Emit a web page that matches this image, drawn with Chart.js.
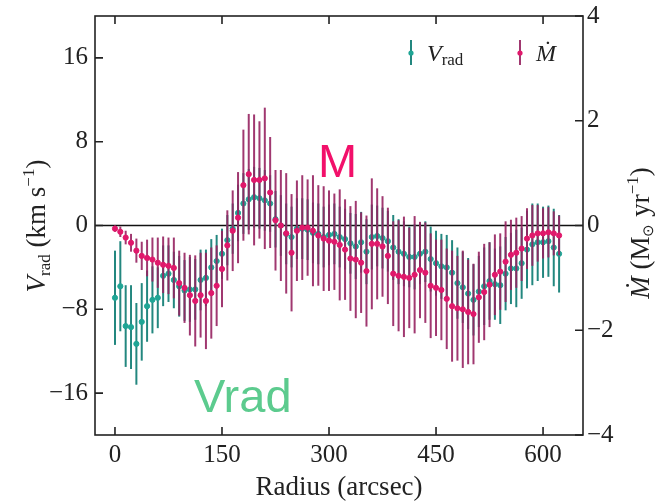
<!DOCTYPE html>
<html>
<head>
<meta charset="utf-8">
<script src="https://cdn.jsdelivr.net/npm/chart.js@4.4.1/dist/chart.umd.min.js"></script>
<style>
  html, body { margin: 0; padding: 0; background: #fff; }
  #wrap { width: 671px; height: 504px; position: relative; }
</style>
</head>
<body>
<div id="wrap"><canvas id="chartVrad" width="671" height="504"></canvas></div>
<script>
// radius in arcsec
const radius = [0, 7.5, 15, 22.5, 30, 37.5, 45, 52.5, 60, 67.5, 75, 82.5, 90, 97.5, 105, 112.5,
  120, 127.5, 135, 142.5, 150, 157.5, 165, 172.5, 180, 187.5, 195, 202.5, 210, 217.5, 225, 232.5,
  240, 247.5, 255, 262.5, 270, 277.5, 285, 292.5, 300, 307.5, 315, 322.5, 330, 337.5, 345, 352.5,
  360, 367.5, 375, 382.5, 390, 397.5, 405, 412.5, 420, 427.5, 435, 442.5, 450, 457.5, 465, 472.5,
  480, 487.5, 495, 502.5, 510, 517.5, 525, 532.5, 540, 547.5, 555, 562.5, 570, 577.5, 585, 592.5,
  600, 607.5, 615, 622.5];

// V_rad (km/s) and its error
const vrad = [-6.9, -5.8, -9.6, -9.7, -11.3, -9.2, -7.7, -7.1, -6.9, -4.8,
  -4.6, -5.2, -5.8, -6.2, -6.1, -6.1, -5.2, -5.0, -4.0, -3.4,
  -2.7, -1.4, -0.3, 1.2, 2.1, 2.5, 2.7, 2.6, 2.4, 2.1,
  0.6, 0.0, -0.8, -1.1, -0.3, -0.3, -0.4, -0.7, -0.8, -1.1,
  -0.9, -0.8, -1.1, -1.3, -1.7, -2.0, -1.6, -2.5, -1.1, -1.0,
  -1.2, -1.5, -2.1, -2.5, -2.7, -3.0, -3.0, -2.7, -2.5, -3.2,
  -3.6, -3.9, -4.0, -4.5, -5.5, -5.9, -6.5, -7.1, -6.3, -5.8,
  -5.3, -5.6, -5.7, -4.6, -4.1, -4.1, -3.6, -2.3, -1.8, -1.6,
  -1.6, -1.5, -2.1, -2.7];
const vradErr = [4.5, 4.3, 3.9, 4.0, 3.9, 3.7, 3.4, 3.2, 2.9, 2.9,
  2.7, 2.7, 2.9, 2.9, 3.1, 2.9, 2.9, 2.7, 2.7, 2.5,
  2.4, 2.4, 2.4, 2.7, 2.9, 2.9, 2.9, 2.9, 2.9, 2.7,
  2.7, 2.9, 2.9, 2.9, 2.9, 2.9, 2.9, 2.9, 2.9, 2.9,
  2.9, 2.9, 2.9, 2.9, 2.9, 3.1, 2.9, 3.1, 3.1, 2.9,
  2.9, 2.9, 3.1, 3.1, 3.1, 2.9, 3.1, 2.9, 2.9, 3.1,
  3.1, 3.1, 3.1, 3.1, 3.4, 3.4, 3.4, 3.4, 3.4, 3.7,
  3.7, 3.4, 3.7, 3.5, 3.4, 3.7, 3.4, 3.7, 3.9, 3.7,
  3.4, 3.4, 3.7, 3.7];

// mass inflow rate (Msun/yr) and its error
const mdot = [-0.06, -0.12, -0.23, -0.33, -0.48, -0.58, -0.62, -0.65, -0.71, -0.75,
  -0.77, -0.81, -1.10, -1.19, -1.33, -1.44, -1.33, -1.44, -1.29, -1.15,
  -0.83, -0.38, -0.10, 0.15, 0.77, 0.98, 0.87, 0.87, 0.90, 0.63,
  0.10, 0.00, -0.15, -0.52, -0.10, -0.04, -0.04, -0.10, -0.19, -0.25,
  -0.29, -0.31, -0.37, -0.46, -0.63, -0.65, -0.71, -0.87, -0.35, -0.35,
  -0.40, -0.58, -0.92, -0.96, -0.98, -1.00, -0.94, -0.85, -0.90, -1.15,
  -1.19, -1.23, -1.40, -1.54, -1.58, -1.60, -1.65, -1.69, -1.37, -1.27,
  -1.13, -0.94, -0.88, -0.69, -0.56, -0.52, -0.44, -0.25, -0.19, -0.15,
  -0.15, -0.13, -0.15, -0.19];
const mdotErr = [0.06, 0.10, 0.13, 0.17, 0.23, 0.27, 0.35, 0.42, 0.48, 0.54,
  0.54, 0.58, 0.62, 0.67, 0.77, 0.87, 0.81, 0.92, 0.87, 0.77,
  0.73, 0.67, 0.77, 0.87, 1.06, 1.15, 1.25, 1.12, 1.35, 1.06,
  0.96, 1.06, 1.15, 1.12, 0.96, 1.00, 0.92, 1.06, 0.96, 1.00,
  0.96, 0.92, 1.06, 0.96, 1.00, 1.12, 0.96, 1.06, 1.25, 1.06,
  0.96, 0.92, 1.00, 1.06, 1.15, 0.96, 1.12, 0.92, 0.96, 1.00,
  0.92, 0.96, 0.96, 1.06, 1.00, 1.12, 1.00, 0.96, 0.87, 0.92,
  0.81, 0.77, 0.73, 0.77, 0.67, 0.67, 0.62, 0.58, 0.58, 0.54,
  0.48, 0.48, 0.42, 0.38];

const xTicks = [0, 150, 300, 450, 600];
const yTicks = [-16, -8, 0, 8, 16];
const y2Ticks = [-4, -2, 0, 2, 4];

const TEAL_BAR = "#23877f";
const TEAL_PT = "#1fa595";
const MAG_BAR = "rgba(150, 34, 96, 0.9)";
const MAG_PT = "#e0186b";
const SERIF = "'Liberation Serif', 'Times New Roman', serif";
const INK = "#222";

const errs = [vradErr, mdotErr];
const barColors = [TEAL_BAR, MAG_BAR];

const minus = (v) => String(v).replace("-", "\u2212");
const noPad = (w) => (s) => { s.width = w; s.paddingTop = 0; s.paddingBottom = 0; };

// error bars go under each dataset's own points
const errorBars = {
  id: "errorBars",
  beforeDatasetDraw(chart, args) {
    const meta = args.meta;
    const ys = chart.scales[meta.yAxisID];
    const xs = chart.scales.x;
    const ds = chart.data.datasets[args.index];
    const ctx = chart.ctx;
    ctx.save();
    ctx.strokeStyle = barColors[args.index];
    ctx.lineWidth = 2;
    ds.data.forEach((p, i) => {
      const e = errs[args.index][i];
      const px = xs.getPixelForValue(p.x);
      ctx.beginPath();
      ctx.moveTo(px, ys.getPixelForValue(p.y - e));
      ctx.lineTo(px, ys.getPixelForValue(p.y + e));
      ctx.stroke();
    });
    ctx.restore();
  },
};

const frame = {
  id: "frame",
  beforeDatasetsDraw(chart) {
    const { ctx, chartArea: a, scales } = chart;
    const y0 = scales.y.getPixelForValue(0);
    ctx.save();
    ctx.strokeStyle = "#111";
    ctx.lineWidth = 1.6;
    ctx.beginPath();
    ctx.moveTo(a.left, y0);
    ctx.lineTo(a.right, y0);
    ctx.stroke();
    ctx.restore();
  },
  afterDraw(chart) {
    const { ctx, chartArea: a, scales } = chart;
    ctx.save();
    ctx.strokeStyle = INK;
    ctx.lineWidth = 1.6;
    ctx.strokeRect(a.left, a.top, a.right - a.left, a.bottom - a.top);
    const tl = 8;
    ctx.beginPath();
    xTicks.forEach((v) => {
      const px = scales.x.getPixelForValue(v);
      ctx.moveTo(px, a.bottom); ctx.lineTo(px, a.bottom - tl);
      ctx.moveTo(px, a.top); ctx.lineTo(px, a.top + tl);
    });
    yTicks.forEach((v) => {
      const py = scales.y.getPixelForValue(v);
      ctx.moveTo(a.left, py); ctx.lineTo(a.left + tl, py);
    });
    y2Ticks.forEach((v) => {
      const py = scales.y2.getPixelForValue(v);
      ctx.moveTo(a.right, py); ctx.lineTo(a.right - tl, py);
    });
    ctx.stroke();

    // axis titles with sub/superscripts
    ctx.fillStyle = INK;
    ctx.textBaseline = "alphabetic";
    const drawRotated = (cx, cy, parts) => {
      let total = 0;
      parts.forEach((p) => { ctx.font = p.font; p.w = ctx.measureText(p.t).width; total += p.w; });
      ctx.save();
      ctx.translate(cx, cy);
      ctx.rotate(-Math.PI / 2);
      let x = -total / 2;
      parts.forEach((p) => {
        ctx.font = p.font;
        ctx.fillText(p.t, x, 9 + (p.dy || 0));
        x += p.w;
      });
      ctx.restore();
    };
    drawRotated(36, 226, [
      { t: "V", font: "italic 27px " + SERIF },
      { t: "rad", font: "17px " + SERIF, dy: 5 },
      { t: " (km s", font: "27px " + SERIF },
      { t: "\u22121", font: "17px " + SERIF, dy: -11 },
      { t: ")", font: "27px " + SERIF },
    ]);
    drawRotated(640, 233, [
      { t: "\u1E40", font: "italic 27px " + SERIF },
      { t: " (M", font: "27px " + SERIF },
      { t: "\u2299", font: "15px " + SERIF, dy: 4 },
      { t: " yr", font: "27px " + SERIF },
      { t: "\u22121", font: "17px " + SERIF, dy: -11 },
      { t: ")", font: "27px " + SERIF },
    ]);

    // legend
    const legendItem = (x, color, ptColor, parts) => {
      ctx.strokeStyle = color;
      ctx.lineWidth = 2;
      ctx.beginPath();
      ctx.moveTo(x, 40); ctx.lineTo(x, 65);
      ctx.stroke();
      ctx.fillStyle = ptColor;
      ctx.beginPath();
      ctx.arc(x, 53, 2.6, 0, Math.PI * 2);
      ctx.fill();
      ctx.fillStyle = INK;
      let tx = x + 16;
      parts.forEach((p) => {
        ctx.font = p.font;
        ctx.fillText(p.t, tx, 61 + (p.dy || 0));
        tx += ctx.measureText(p.t).width;
      });
    };
    legendItem(411, TEAL_BAR, TEAL_PT, [
      { t: "V", font: "italic 24px " + SERIF },
      { t: "rad", font: "17px " + SERIF, dy: 4 },
    ]);
    legendItem(520, MAG_BAR, MAG_PT, [
      { t: "\u1E40", font: "italic 24px " + SERIF },
    ]);

    // overlaid labels
    ctx.font = "47px 'Liberation Sans', Arial, sans-serif";
    ctx.fillStyle = "#f2106a";
    ctx.fillText("M", 318, 177);
    ctx.fillStyle = "#5ccb8e";
    ctx.fillText("Vrad", 194, 412);
    ctx.restore();
  },
};

const data = {
  datasets: [
    {
      label: "Vrad",
      data: radius.map((r, i) => ({ x: r, y: vrad[i] })),
      yAxisID: "y",
      backgroundColor: TEAL_PT,
      borderColor: TEAL_PT,
      pointRadius: 2.6,
      showLine: false,
      order: 2,
    },
    {
      label: "Mdot",
      data: radius.map((r, i) => ({ x: r, y: mdot[i] })),
      yAxisID: "y2",
      backgroundColor: MAG_PT,
      borderColor: MAG_PT,
      pointRadius: 2.6,
      showLine: false,
      order: 1,
    },
  ],
};

const tickFont = { family: SERIF, size: 25 };

const config = {
  type: "scatter",
  data,
  plugins: [errorBars, frame],
  options: {
    responsive: false,
    animation: false,
    layout: { padding: { top: 16, left: 0, right: 0, bottom: 0 } },
    plugins: { legend: { display: false }, tooltip: { enabled: false } },
    scales: {
      x: {
        type: "linear",
        min: -28,
        max: 656,
        afterBuildTicks: (s) => { s.ticks = xTicks.map((v) => ({ value: v })); },
        afterFit: (s) => { s.height = 69; s.paddingLeft = 0; s.paddingRight = 0; },
        grid: { display: false, drawTicks: false },
        border: { display: false },
        ticks: { font: tickFont, color: INK, padding: 5, maxRotation: 0 },
        title: {
          display: true,
          text: "Radius (arcsec)",
          font: { family: SERIF, size: 27 },
          color: INK,
          padding: { top: 0, bottom: 0 },
        },
      },
      y: {
        position: "left",
        min: -20,
        max: 20,
        afterBuildTicks: (s) => { s.ticks = yTicks.map((v) => ({ value: v })); },
        afterFit: noPad(95),
        grid: { display: false, drawTicks: false },
        border: { display: false },
        ticks: { font: tickFont, color: INK, padding: 7, callback: minus },
      },
      y2: {
        position: "right",
        min: -4,
        max: 4,
        afterBuildTicks: (s) => { s.ticks = y2Ticks.map((v) => ({ value: v })); },
        afterFit: noPad(88),
        grid: { display: false, drawTicks: false },
        border: { display: false },
        ticks: { font: tickFont, color: INK, padding: 4, callback: minus },
      },
    },
  },
};

const chartVrad = new Chart(document.getElementById("chartVrad"), config);
</script>
</body>
</html>
